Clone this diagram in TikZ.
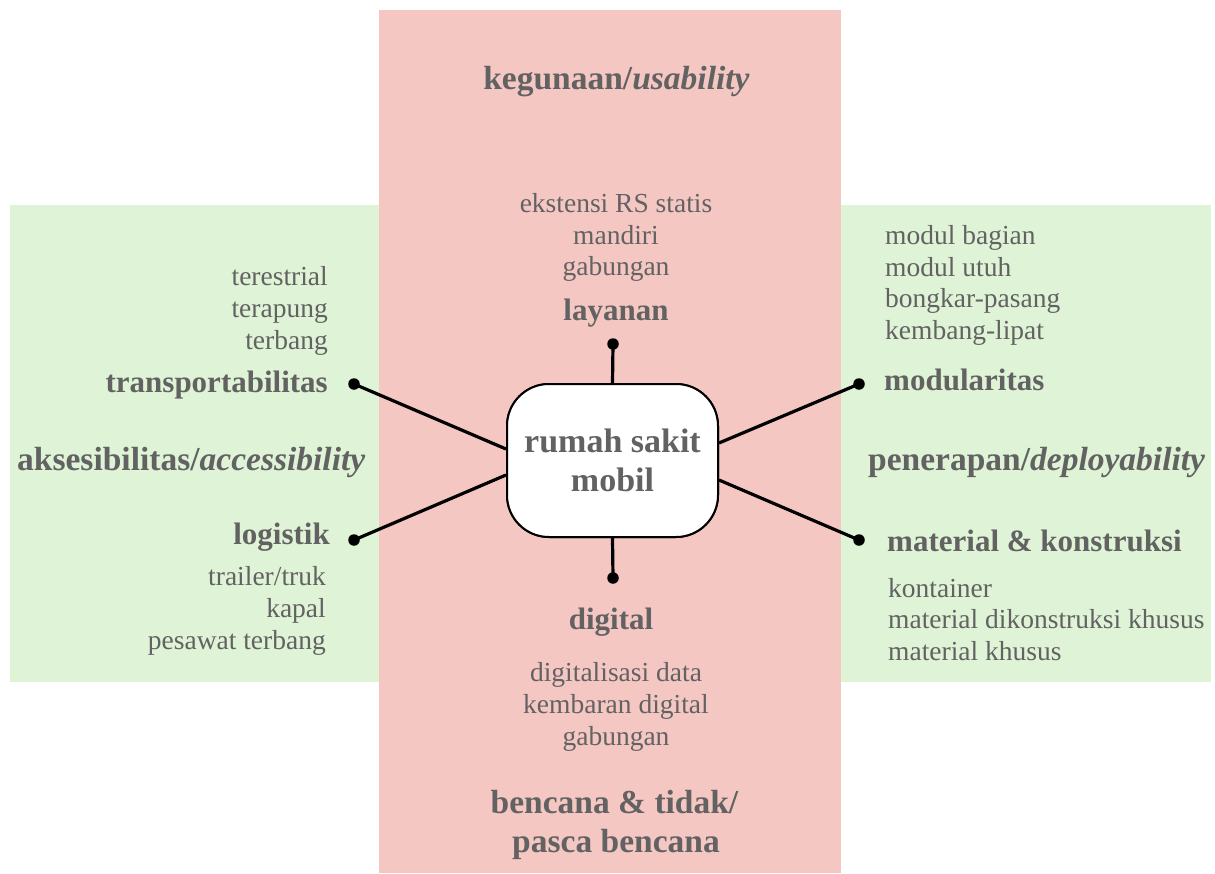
\documentclass[tikz,border=0pt]{standalone}
\usepackage{fontspec}
\setmainfont{Liberation Serif}
\definecolor{pinkbg}{HTML}{F4C7C3}
\definecolor{greenbg}{HTML}{DFF3D6}
\definecolor{txt}{HTML}{626262}
\begin{document}
\begin{tikzpicture}[x=1pt,y=-1pt,
  lbl/.style={font=\bfseries\fontsize{31}{36}\selectfont, text=txt, inner sep=0pt},
  head/.style={font=\bfseries\fontsize{33.5}{39}\selectfont, text=txt, inner sep=0pt},
  item/.style={font=\fontsize{27.5}{32}\selectfont, text=txt, inner sep=0pt},
  dotnode/.style={circle, fill=black, inner sep=0pt, minimum size=11.5pt},
  conn/.style={line width=3.2pt, black},
  hub/.style={draw=black, line width=2pt, fill=white, rounded corners=42pt,
    minimum width=211pt, minimum height=153pt, align=center, text=txt,
    font=\bfseries\fontsize{34}{39}\selectfont}]
\useasboundingbox (0,0) rectangle (1215,873);
\fill[white] (0,0) rectangle (1215,873);
% backgrounds
\fill[pinkbg] (379,10) rectangle (841,873);
\fill[greenbg] (10,205) rectangle (379,682);
\fill[greenbg] (841,205) rectangle (1211,682);

% centre node (placed first to fix its anchors)
\node[hub] (rs) at (612.5,460.5) {rumah sakit\\mobil};

% top
\node[head, anchor=base] (usab) at (616.5,89) {kegunaan/\textit{usability}};
\node[item, anchor=base] (t1) at (616,212) {ekstensi RS statis};
\node[item, anchor=base] (t2) at (616,244) {mandiri};
\node[item, anchor=base] (t3) at (616,275) {gabungan};
\node[lbl, anchor=base] (lay) at (616,320) {layanan};
\node[dotnode] (dT) at (613,344) {};

% bottom
\node[dotnode] (dB) at (613,578) {};
\node[lbl, anchor=base] (dig) at (611,629) {digital};
\node[item, anchor=base] (b1) at (616,681) {digitalisasi data};
\node[item, anchor=base] (b2) at (616,713) {kembaran digital};
\node[item, anchor=base] (b3) at (616,745) {gabungan};
\node[head, anchor=base] (benc1) at (614.5,813) {bencana \& tidak/};
\node[head, anchor=base] (benc2) at (616,852) {pasca bencana};

% left
\node[item, anchor=base east] (l1) at (328,285) {terestrial};
\node[item, anchor=base east] (l2) at (328,317) {terapung};
\node[item, anchor=base east] (l3) at (328,349) {terbang};
\node[lbl, anchor=base east] (trans) at (328,392) {transportabilitas};
\node[dotnode] (dLT) at (354,384) {};
\node[head, anchor=base west] (akses) at (17,470) {aksesibilitas/\textit{accessibility}};
\node[lbl, anchor=base east] (logi) at (330,544) {logistik};
\node[dotnode] (dLB) at (354,540) {};
\node[item, anchor=base east] (l4) at (326,585) {trailer/truk};
\node[item, anchor=base east] (l5) at (326,617) {kapal};
\node[item, anchor=base east] (l6) at (326,649) {pesawat terbang};

% right
\node[item, anchor=base west] (r1) at (885,244) {modul bagian};
\node[item, anchor=base west] (r2) at (885,276) {modul utuh};
\node[item, anchor=base west] (r3) at (885,307) {bongkar-pasang};
\node[item, anchor=base west] (r4) at (885,339) {kembang-lipat};
\node[lbl, anchor=base west] (modu) at (884,390) {modularitas};
\node[dotnode] (dRT) at (859,384) {};
\node[head, anchor=base west] (pener) at (868,470) {penerapan/\textit{deployability}};
\node[lbl, anchor=base west] (mat) at (887,551) {material \& konstruksi};
\node[dotnode] (dRB) at (859,540) {};
\node[item, anchor=base west] (r5) at (888,597) {kontainer};
\node[item, anchor=base west] (r6) at (888,628) {material dikonstruksi khusus};
\node[item, anchor=base west] (r7) at (888,660) {material khusus};

% attachment points on the centre node
\coordinate (aLT) at ([yshift=11.5pt]rs.west);
\coordinate (aLB) at ([yshift=-14.5pt]rs.west);
\coordinate (aRT) at ([yshift=17.5pt]rs.east);
\coordinate (aRB) at ([yshift=-19.5pt]rs.east);

% connectors
\draw[conn] (rs.north) -- (dT.center);
\draw[conn] (rs.south) -- (dB.center);
\draw[conn] (aLT) -- (dLT.center);
\draw[conn] (aLB) -- (dLB.center);
\draw[conn] (aRT) -- (dRT.center);
\draw[conn] (aRB) -- (dRB.center);
% redraw centre node over the connector ends
\node[hub] (rsTop) at (rs) {rumah sakit\\mobil};
\end{tikzpicture}
\end{document}
